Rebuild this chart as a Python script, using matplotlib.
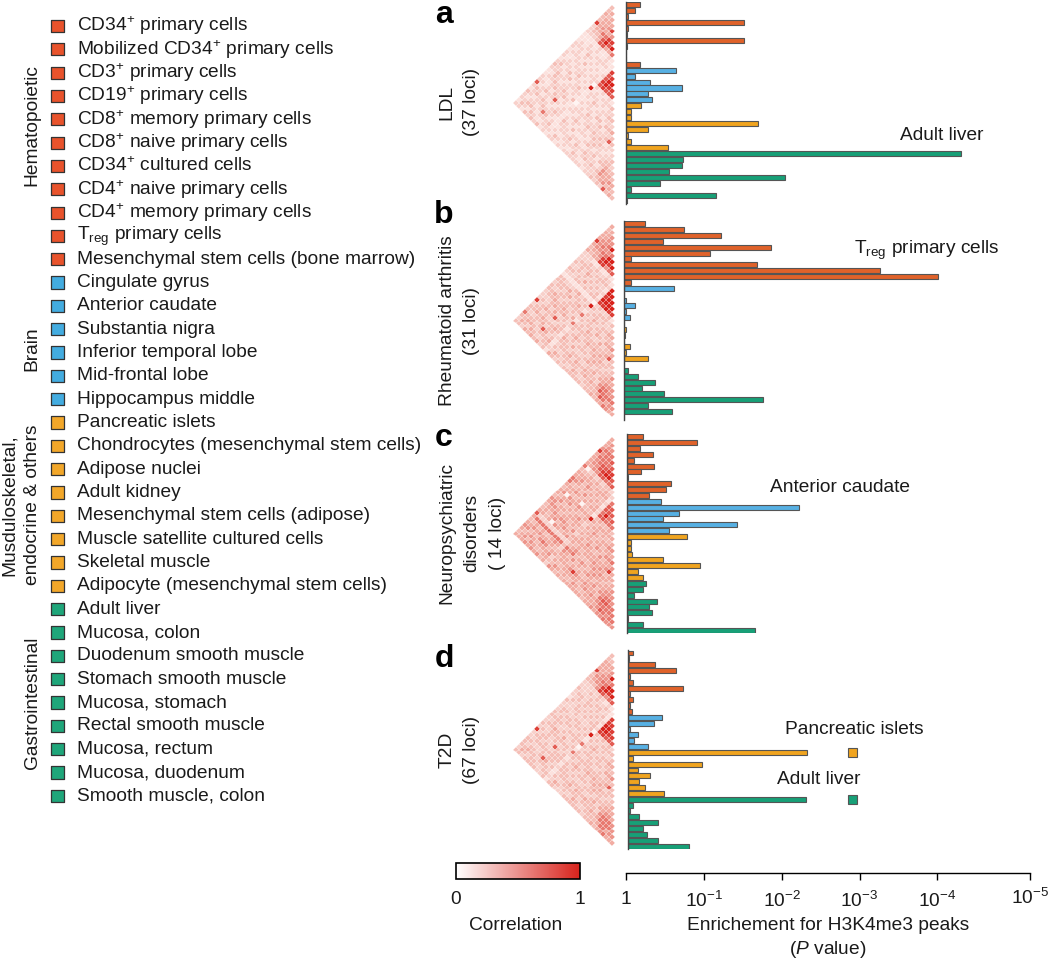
import matplotlib
matplotlib.use("Agg")
import matplotlib.pyplot as plt
import numpy as np
from matplotlib.colors import LinearSegmentedColormap, Normalize
from matplotlib.cm import ScalarMappable

plt.rcParams['font.family'] = ['Liberation Sans', 'DejaVu Sans']
plt.rcParams['mathtext.fontset'] = 'custom'
plt.rcParams['mathtext.rm'] = 'Liberation Sans'
plt.rcParams['mathtext.it'] = 'Liberation Sans:italic'
plt.rcParams['mathtext.bf'] = 'Liberation Sans:bold'

# --- Data ---
tissues = [
    "CD34$^{+}$ primary cells", "Mobilized CD34$^{+}$ primary cells", "CD3$^{+}$ primary cells",
    "CD19$^{+}$ primary cells", "CD8$^{+}$ memory primary cells", "CD8$^{+}$ naive primary cells",
    "CD34$^{+}$ cultured cells", "CD4$^{+}$ naive primary cells", "CD4$^{+}$ memory primary cells",
    "T$_{\\mathrm{reg}}$ primary cells", "Mesenchymal stem cells (bone marrow)",
    "Cingulate gyrus", "Anterior caudate", "Substantia nigra", "Inferior temporal lobe",
    "Mid-frontal lobe", "Hippocampus middle",
    "Pancreatic islets", "Chondrocytes (mesenchymal stem cells)", "Adipose nuclei", "Adult kidney",
    "Mesenchymal stem cells (adipose)", "Muscle satellite cultured cells", "Skeletal muscle",
    "Adipocyte (mesenchymal stem cells)",
    "Adult liver", "Mucosa, colon", "Duodenum smooth muscle", "Stomach smooth muscle", "Mucosa, stomach",
    "Rectal smooth muscle", "Mucosa, rectum", "Mucosa, duodenum", "Smooth muscle, colon",
]
group_sizes = [11, 6, 8, 9]
bar_colors = ["#E0622A", "#57B0E3", "#F0A41F", "#17A077"]
square_colors = ["#E8532C", "#43ACE0", "#F2A72A", "#1FA67A"]

# -log10(P) for each tissue, top to bottom
bars_a = [.18, .12, .03, 1.46, .03, .02, 1.46, .02, .005, .003, .18,
          .62, .12, .30, .70, .27, .33,
          .19, .07, .07, 1.64, .27, .03, .07, .52,
          4.15, .71, .70, .54, 1.97, .43, .07, 1.12, .02]
bars_b = [.26, .74, 1.20, .48, 1.82, 1.07, .09, 1.65, 3.17, 3.89, .09,
          .62, 0, .03, .14, .03, .07,
          0, .02, .01, 0, .07, .02, .30, 0,
          .05, .17, .38, .22, .50, 1.72, .30, .60, 0]
bars_c = [.20, .87, .16, .33, .09, .34, .18, .02, .55, .49, .27,
          .42, 2.13, .65, .45, 1.36, .52,
          .75, .05, .05, .07, .45, .91, .14, .20,
          .24, .20, .09, .38, .28, .31, .02, .20, 1.59]
bars_d = [.06, .01, .33, .60, .02, .06, .68, .02, .06, .02, .05,
          .42, .32, .03, .12, .08, .25,
          2.22, .06, .91, .12, .27, .14, .21, .44,
          2.20, .06, .02, .14, .37, .18, .24, .37, .76]
# detached end pieces in panel d (row, -log10 P)
d_extra_rows = [17, 25]
d_extra_vals = [2.72, 2.72]

# correlation, one string per row (upper triangle, digits 0-9)
corr_a = [
    "3343382221 112212 21232112 272132212", "434444321 122121 12322121 213221232",
    "44454321 112221 22123321 122312321", "4546431 221122 12212232 231222313",
    "846771 123212 21322123 122321232", "58972 212131 22131222 321232123",
    "8741 121212 23212232 272126212", "941 122121 21222123 121223213",
    "62 221212 12132212 212321221", "1 121122 21212131 122212322",
    "111212 09111101 211111121", "87787 21221212 212321212",
    "8998 12212122 121222132", "987 21232212 232122121",
    "87 12121232 121312212", "7 22212122 212123221",
    "12122312 322121212", "3221322 212123212", "232132 321212232",
    "32312 232312122", "2322 323223212", "423 232122312", "37 122232221",
    "3 221212322", "212231222", "22332323", "3345532", "234443", "34452",
    "3537", "443", "34", "3",
]
corr_b = [
    "4344484342 223232 13323322 282336323", "444555432 232232 13332332 323323343",
    "55565442 233322 12332432 233423432", "5656541 332233 12323343 342333424",
    "956881 234323 12433234 233432343", "69982 323242 13242333 432343234",
    "9851 232323 14323343 272327323", "961 233232 12333234 232334324",
    "72 332323 13243323 323432332", "1 232233 12323242 233323433",
    "121212 09216216 212121121", "99898 23232323 323432324",
    "9998 32323233 232333243", "999 23343323 343233232",
    "98 23232343 232423323", "8 33323233 323234332",
    "12233423 433232323", "3232323 323234323", "343243 432323343",
    "43423 343423233", "3433 434334323", "534 343233423", "47 233343332",
    "3 332323433", "323342333", "33445434", "5456743", "456674", "55664",
    "5646", "655", "54", "4",
]
corr_c = [
    "4445844446 344664 34435433 474345434", "556565540 344534 45345544 426345344",
    "56666552 345434 40453543 326453454", "6667753 443345 35434454 426344535",
    "767872 345434 34534345 026453454", "78973 434353 44343453 526345345",
    "8962 343434 05434454 426346434", "763 344343 34344345 326445435",
    "73 443434 34354434 426543443", "2 343344 34434353 526434544",
    "212122 19323324 323234232", "67767 34343434 436543435",
    "7797 43434344 345444354", "766 34454434 456344343",
    "76 34343454 343534434", "6 44434344 434345443",
    "34344534 435438434", "4343434 434345434", "454354 543434454",
    "54534 454534344", "4544 545445434", "645 454344534", "58 344454443",
    "4 443434544", "434453444", "44556545", "5567654", "567675", "56665",
    "6656", "665", "65", "5",
]
corr_d = [
    "3344483332 232213 22233223 282233323", "344445432 223232 23323232 323232343",
    "44455532 223322 23233332 233323432", "5556552 322233 22323243 332323323",
    "956882 233323 32332233 223322333", "69973 323232 23232323 322333233",
    "9852 232323 23323243 272327323", "961 233232 22323223 233334322",
    "72 322323 23233323 323332332", "1 223233 32323232 233323233",
    "111212 09116016 212121121", "88998 32323233 323332323",
    "8998 23232323 232333243", "887 32343323 343233232",
    "87 23232333 232323322", "7 33323233 323234332",
    "23233323 433232323", "3232323 323234323", "343233 432333343",
    "43423 343323233", "3433 434324323", "534 343233323", "37 233343332",
    "3 332323433", "323342333", "33445434", "4456643", "456664", "46665",
    "5646", "554", "54", "4",
]

# panel letter, side label, bars, correlation, bar baseline px, first row px, row step px
panels = [
    ("a", ["LDL", "(37 loci)"], bars_a, corr_a, 625.7, 4.7, 5.95),
    ("b", ["Rheumatoid arthritis", "(31 loci)"], bars_b, corr_b, 624.0, 223.7, 5.87),
    ("c", ["Neuropsychiatric", "disorders", "( 14 loci)"], bars_c, corr_c, 626.7, 436.7, 5.87),
    ("d", ["T2D", "(67 loci)"], bars_d, corr_d, 628.0, 653.0, 5.85),
]
letter_y = [23, 223, 446, 667]
side_y = [102, 321, 533, 750]
xtick_vals = [0, 1, 2, 3, 4, 5]
xtick_labels = ["1", "$10^{-1}$", "$10^{-2}$", "$10^{-3}$", "$10^{-4}$", "$10^{-5}$"]

W, H = 1050, 959
FS = 13.8
DECADE = 80.8
DX = 3.0
RIGHT = 615.0
n = len(tissues)
row_colors = np.repeat(bar_colors, group_sizes)
sq_colors = np.repeat(square_colors, group_sizes)

cmap = LinearSegmentedColormap.from_list("corr", ["#FFF4F2", "#F0A499", "#D8231C"])


def px_axes(left, top, width, height):
    # axes placed by pixel box of the target picture
    ax = fig.add_axes([left / W, 1 - (top + height) / H, width / W, height / H])
    ax.patch.set_alpha(0)
    return ax


def txt(x, y, s, **kw):
    kw.setdefault("fontsize", FS)
    kw.setdefault("ha", "left")
    kw.setdefault("va", "center")
    kw.setdefault("color", "#1a1a1a")
    fig.text(x / W, 1 - y / H, s, **kw)


fig = plt.figure(figsize=(W / 100, H / 100), dpi=100)

# --- Legend column ---
leg = px_axes(0, 0, 440, 830)
leg.set_xlim(0, 440)
leg.set_ylim(830, 0)
leg.axis("off")
rows_y = 26 + np.arange(n) * 23.33
leg.scatter(np.full(n, 57.5), rows_y, marker="s", s=78, c=sq_colors, edgecolors="#333333", linewidths=0.9)
for y, name in zip(rows_y, tissues):
    leg.text(77, y, name, fontsize=FS, va="center", color="#1a1a1a")

txt(32, 125, "Hematopoietic", rotation=90, ha="center")
txt(32, 349, "Brain", rotation=90, ha="center")
txt(9, 505, "Musduloskeletal,", rotation=90, ha="center")
txt(33, 505, "endocrine & others", rotation=90, ha="center")
txt(32, 703, "Gastrointestinal", rotation=90, ha="center")

# --- Panels ---
for k, (letter, side, bars, corr, base, y0, dy) in enumerate(panels):
    txt(444, letter_y[k], letter, fontsize=23, fontweight="bold", ha="center", va="baseline", color="black")
    for m, line in enumerate(side):
        txt(447 + m * 25, side_y[k], line, rotation=90, ha="center")

    # correlation triangle: matrix cells rotated by 45 degrees
    C = np.ma.masked_all((n, n))
    for i, row in enumerate(corr):
        digits = row.replace(" ", "")
        for j, ch in zip(range(i + 1, n), digits):
            C[i, j] = int(ch) / 9
    edges = np.arange(n + 1) - 0.5
    rr, cc = np.meshgrid(edges, edges, indexing="ij")
    hm = px_axes(RIGHT - 34 * DX, y0 - dy, 34 * DX, 34 * dy)
    hm.pcolormesh(cc - rr, (rr + cc) / 2, C, cmap=cmap, norm=Normalize(0, 1),
                  edgecolors="#ffffff", linewidth=0.12, antialiased=True)
    hm.set_xlim(34, 0)
    hm.set_ylim(33, -1)
    hm.axis("off")

    # enrichment bars
    ax = px_axes(base, y0 - dy / 2, 5 * DECADE, n * dy)
    ax.barh(np.arange(n), bars, height=0.85, color=row_colors, edgecolor="#555555", linewidth=0.8)
    if letter == "d":
        ax.barh(d_extra_rows, 0.12, left=d_extra_vals, height=1.5,
                color=[row_colors[r] for r in d_extra_rows], edgecolor="#555555", linewidth=0.8)
    ax.set_xlim(0, 5)
    ax.set_ylim(n - 0.5, -0.5)
    ax.set_xticks([])
    ax.set_yticks([])
    for s in ["top", "right", "bottom"]:
        ax.spines[s].set_visible(False)
    ax.spines["left"].set_color("#444444")
    ax.spines["left"].set_linewidth(1.0)

# --- Annotations ---
txt(900, 136, "Adult liver")
txt(854, 250, "T$_{\\mathrm{reg}}$ primary cells")
txt(770, 487, "Anterior caudate")
txt(785, 729, "Pancreatic islets")
txt(777, 779, "Adult liver")

# --- Colour scale ---
cax = px_axes(456, 863, 124, 16)
cb = fig.colorbar(ScalarMappable(norm=Normalize(0, 1), cmap=LinearSegmentedColormap.from_list(
    "bar", ["#FFFFFF", "#D8231C"])), cax=cax, orientation="horizontal")
cb.set_ticks([])
cb.outline.set_linewidth(1.2)
txt(456, 899, "0", ha="center")
txt(580, 899, "1", ha="center")
txt(516, 926, "Correlation", ha="center")

# --- P value axis ---
pax = px_axes(626, 872, 5 * DECADE, 1)
pax.set_xlim(0, 5)
pax.set_yticks([])
for s in ["top", "right", "left"]:
    pax.spines[s].set_visible(False)
pax.spines["bottom"].set_linewidth(1.0)
pax.set_xticks(xtick_vals[:-1] + [5.19])
pax.set_xticklabels(xtick_labels[:-1] + [""], fontsize=FS, color="#1a1a1a")
pax.tick_params(axis="x", length=5, width=1.0, pad=8)
txt(626 + 5 * DECADE, 898, xtick_labels[-1], ha="center")
txt(828, 926, "Enrichement for H3K4me3 peaks", ha="center")
txt(828, 950, "($\\mathit{P}$ value)", ha="center")

fig.savefig("out.png", dpi=100)
